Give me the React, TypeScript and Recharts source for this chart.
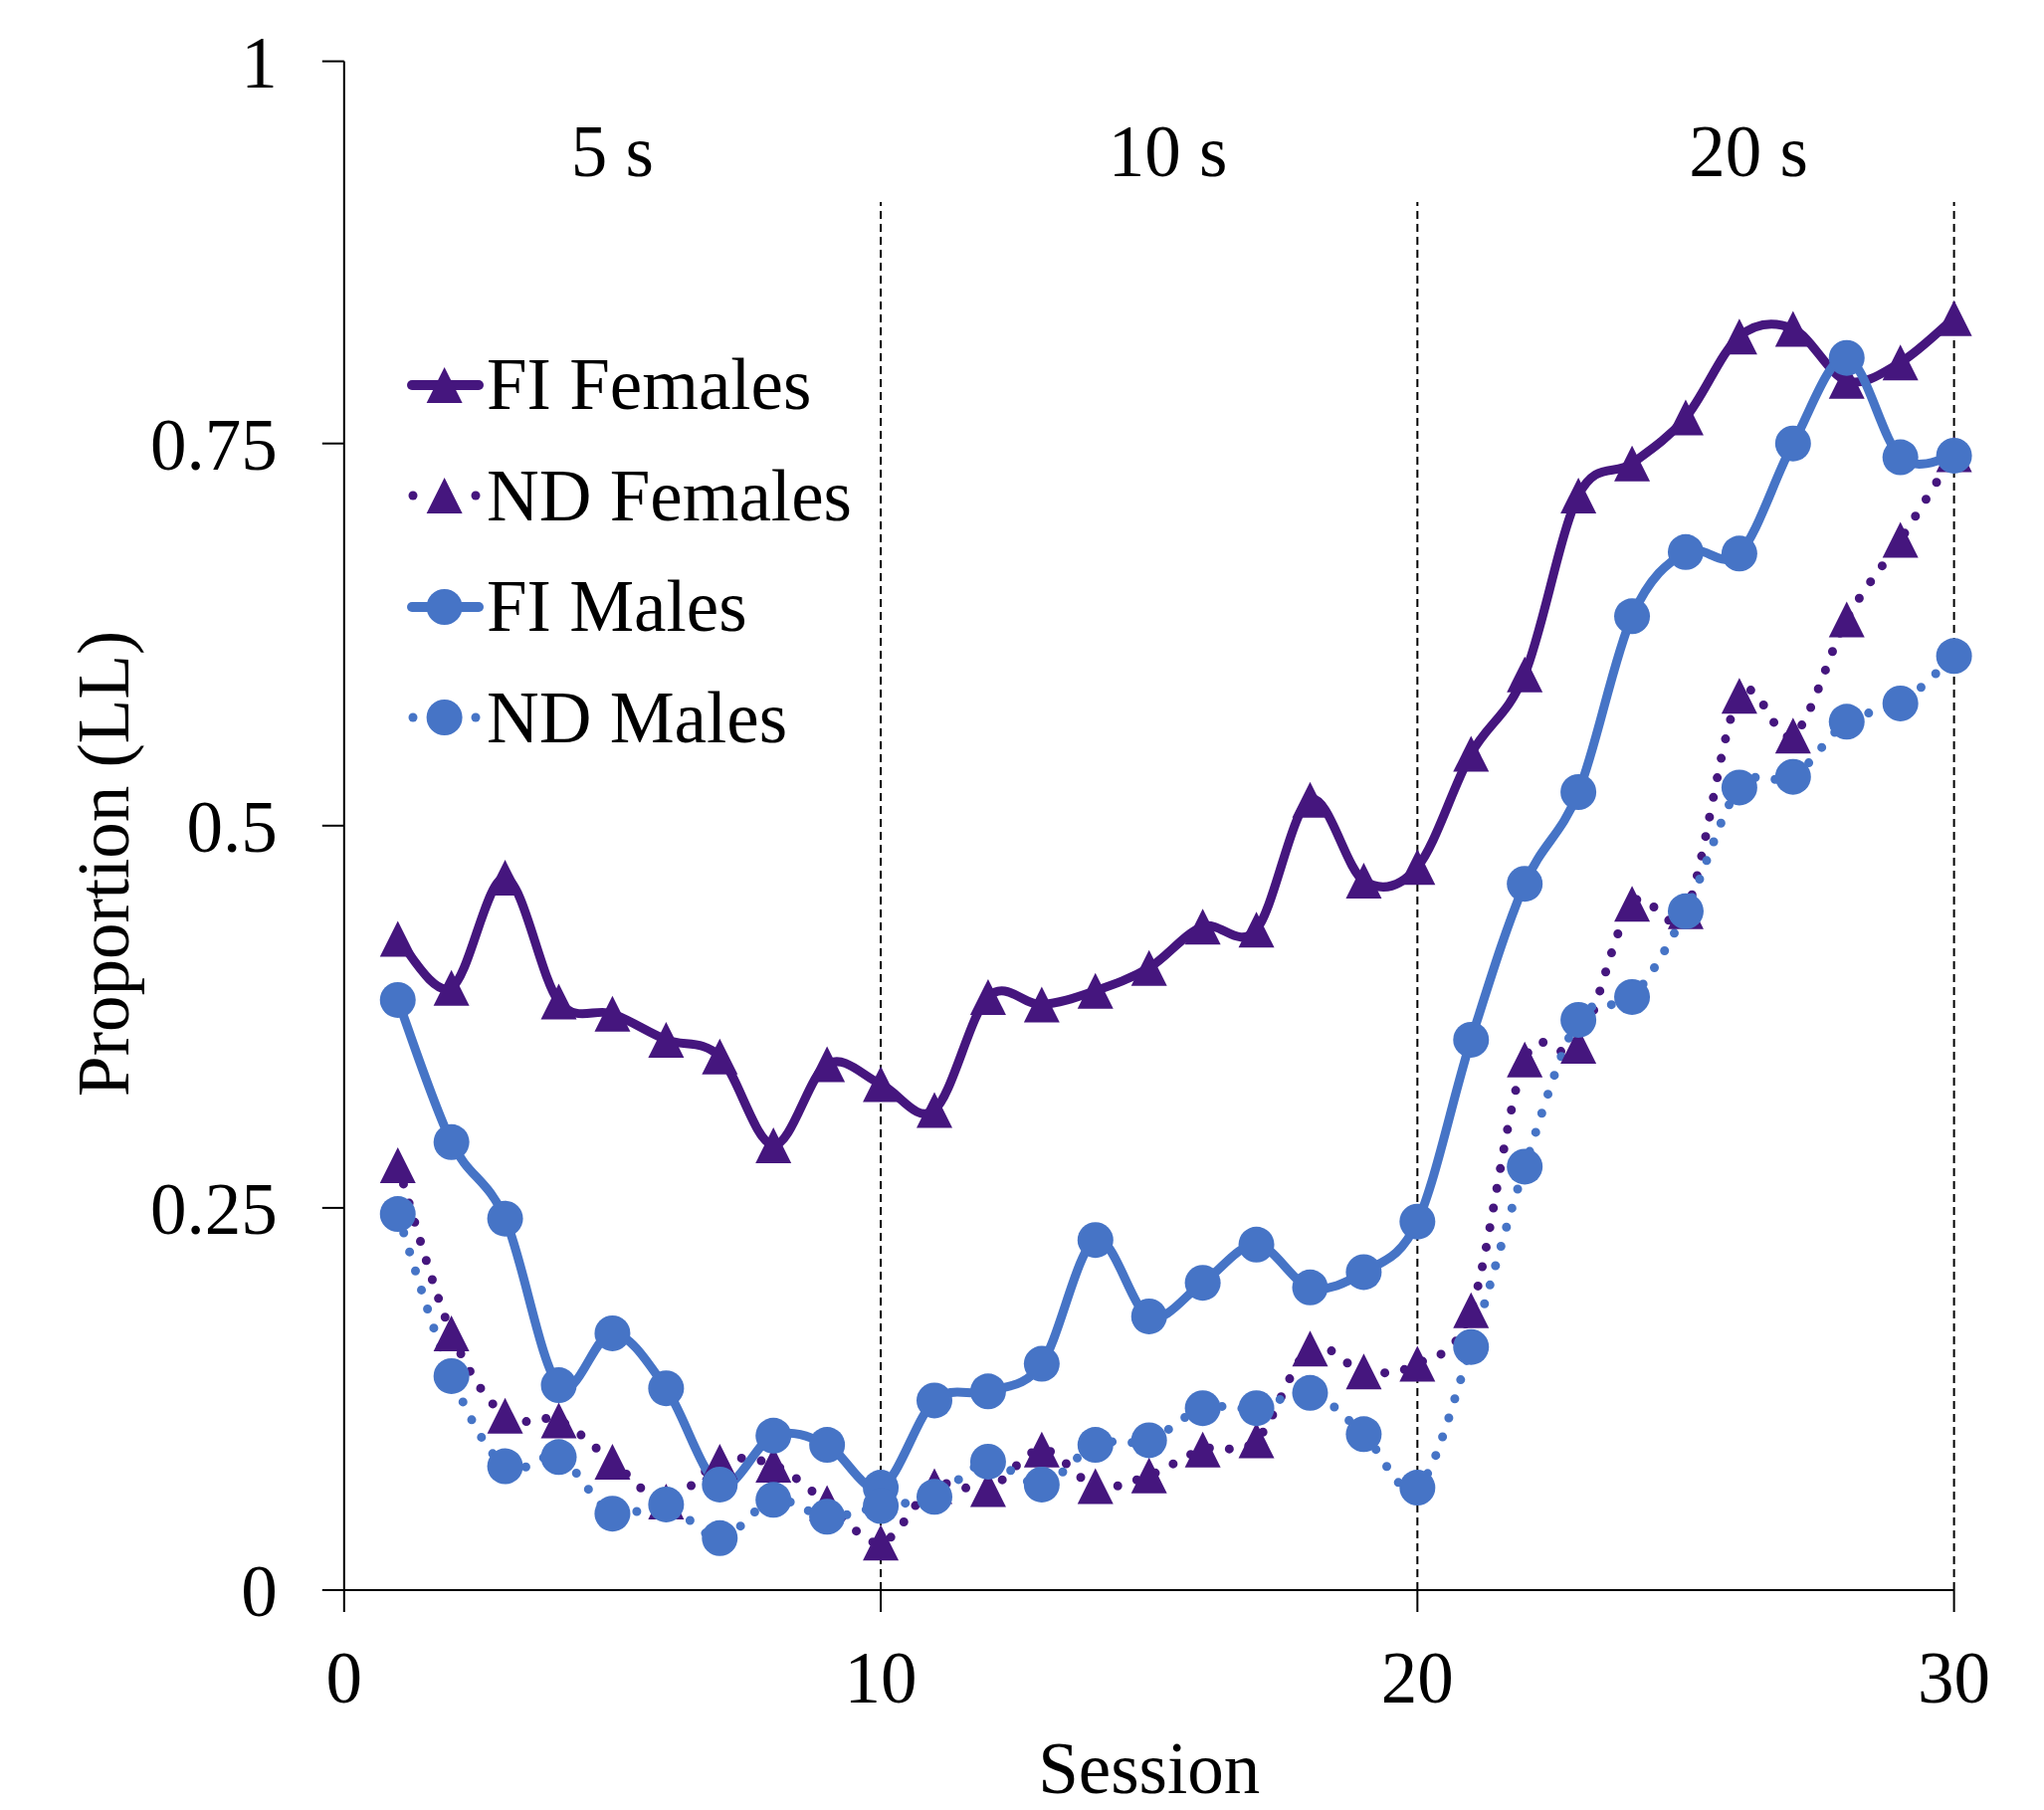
import React from 'react';
import {
  Label,
  Legend,
  Line,
  LineChart,
  ReferenceDot,
  ReferenceLine,
  XAxis,
  YAxis,
} from 'recharts';

const sessions = Array.from({ length: 30 }, (_, i) => i + 1);

const fiFemales = [
  0.426, 0.394, 0.466, 0.385, 0.377, 0.36, 0.349, 0.291, 0.344, 0.331,
  0.314, 0.388, 0.383, 0.392, 0.407, 0.434, 0.432, 0.517, 0.464, 0.473,
  0.547, 0.599, 0.716, 0.737, 0.767, 0.82, 0.825, 0.791, 0.803, 0.832,
];
const ndFemales = [
  0.278, 0.168, 0.114, 0.111, 0.084, 0.058, 0.084, 0.082, 0.057, 0.031,
  0.068, 0.066, 0.092, 0.068, 0.075, 0.092, 0.098, 0.158, 0.143, 0.148,
  0.183, 0.347, 0.356, 0.449, 0.444, 0.585, 0.559, 0.635, 0.687, 0.743,
];
const fiMales = [
  0.386, 0.293, 0.243, 0.134, 0.168, 0.132, 0.069, 0.101, 0.095, 0.067,
  0.124, 0.13, 0.148, 0.229, 0.179, 0.201, 0.226, 0.198, 0.208, 0.241,
  0.36, 0.462, 0.522, 0.637, 0.679, 0.678, 0.75, 0.806, 0.741, 0.742,
];
const ndMales = [
  0.246, 0.14, 0.081, 0.087, 0.05, 0.056, 0.034, 0.059, 0.048, 0.055,
  0.061, 0.084, 0.069, 0.095, 0.098, 0.119, 0.119, 0.129, 0.102, 0.067,
  0.159, 0.277, 0.373, 0.388, 0.444, 0.525, 0.532, 0.568, 0.58, 0.611,
];

const xTicks = [0, 10, 20, 30];
const yTicks = [0, 0.25, 0.5, 0.75, 1];
const phaseBounds = [10, 20, 30];
const phaseLabels = ['5 s', '10 s', '20 s'];
const phaseLabelX = [5, 15.35, 26.17];

const data = sessions.map((s, i) => ({
  session: s,
  fiF: fiFemales[i],
  ndF: ndFemales[i],
  fiM: fiMales[i],
  ndM: ndMales[i],
}));

const PURPLE = '#45167e';
const BLUE = '#4674c6';
const FONT = '"Liberation Serif", "Times New Roman", serif';
const FS = 73;

// Excel-like smoothed line (Catmull-Rom as bezier)
const smoothCurve = (context: any) => {
  let pts: number[][] = [];
  return {
    areaStart() {},
    areaEnd() {},
    lineStart() {
      pts = [];
    },
    point(x: number, y: number) {
      pts.push([+x, +y]);
    },
    lineEnd() {
      const n = pts.length;
      if (!n) return;
      context.moveTo(pts[0][0], pts[0][1]);
      for (let i = 0; i < n - 1; i++) {
        const p0 = pts[i - 1] || pts[i];
        const p1 = pts[i];
        const p2 = pts[i + 1];
        const p3 = pts[i + 2] || p2;
        context.bezierCurveTo(
          p1[0] + (p2[0] - p0[0]) / 6,
          p1[1] + (p2[1] - p0[1]) / 6,
          p2[0] - (p3[0] - p1[0]) / 6,
          p2[1] - (p3[1] - p1[1]) / 6,
          p2[0],
          p2[1]
        );
      }
    },
  };
};

const triangle = (color: string) => (props: any) => {
  const { cx, cy, index } = props;
  if (cx == null || cy == null) return <g key={`t-${index}`} />;
  return (
    <path
      key={`t-${index}`}
      d={`M${cx},${cy - 18}L${cx + 18},${cy + 18}L${cx - 18},${cy + 18}Z`}
      fill={color}
    />
  );
};

const circle = (color: string) => (props: any) => {
  const { cx, cy, index } = props;
  if (cx == null || cy == null) return <g key={`c-${index}`} />;
  return <circle key={`c-${index}`} cx={cx} cy={cy} r={18} fill={color} />;
};

const legendItems = [
  { name: 'FI Females', color: PURPLE, marker: 'tri', dotted: false },
  { name: 'ND Females', color: PURPLE, marker: 'tri', dotted: true },
  { name: 'FI Males', color: BLUE, marker: 'circ', dotted: false },
  { name: 'ND Males', color: BLUE, marker: 'circ', dotted: true },
];

const renderLegend = () => (
  <div>
    {legendItems.map((it) => (
      <div
        key={it.name}
        style={{ display: 'flex', alignItems: 'center', height: 111.5 }}
      >
        <svg width={80} height={44} style={{ display: 'block' }}>
          {it.dotted ? (
            [6, 69].map((x) => (
              <circle key={x} cx={x} cy={22} r={4.5} fill={it.color} />
            ))
          ) : (
            <line
              x1={5}
              y1={22}
              x2={72}
              y2={22}
              stroke={it.color}
              strokeWidth={10}
              strokeLinecap="round"
            />
          )}
          {it.marker === 'tri' ? (
            <path d="M37.6,4L55.6,40L19.6,40Z" fill={it.color} />
          ) : (
            <circle cx={37.6} cy={22} r={18} fill={it.color} />
          )}
        </svg>
        <span
          style={{
            fontFamily: FONT,
            fontSize: FS,
            lineHeight: 1,
            color: '#000',
            whiteSpace: 'nowrap',
          }}
        >
          {it.name}
        </span>
      </div>
    ))}
  </div>
);

const tickStyle = { fill: '#000', fontSize: FS, fontFamily: FONT };

export default function App() {
  return (
    <LineChart
      width={2038}
      height={1803}
      data={data}
      margin={{ top: 53.6, right: 82.4, bottom: 7, left: 0 }}
    >
      <XAxis
        dataKey="session"
        type="number"
        domain={[0, 30]}
        ticks={xTicks}
        height={206}
        tick={tickStyle}
        tickSize={22}
        tickMargin={39}
        axisLine={{ stroke: '#000', strokeWidth: 2 }}
        tickLine={{ stroke: '#000', strokeWidth: 2 }}
      >
        <Label
          value="Session"
          position="insideBottom"
          offset={2}
          fill="#000"
          fontSize={FS}
          fontFamily={FONT}
        />
      </XAxis>
      <YAxis
        type="number"
        domain={[0, 1]}
        ticks={yTicks}
        width={337.8}
        tick={tickStyle}
        tickSize={22}
        tickMargin={45}
        axisLine={{ stroke: '#000', strokeWidth: 2 }}
        tickLine={{ stroke: '#000', strokeWidth: 2 }}
      >
        <Label
          content={({ viewBox }: any) => {
            const cx = viewBox.x + 97;
            const cy = viewBox.y + viewBox.height / 2 + 38;
            return (
              <text
                x={cx}
                y={cy}
                transform={`rotate(-90 ${cx} ${cy})`}
                textAnchor="middle"
                dominantBaseline="central"
                fill="#000"
                fontSize={FS}
                fontFamily={FONT}
              >
                Proportion (LL)
              </text>
            );
          }}
        />
      </YAxis>
      {phaseBounds.map((b) => (
        <ReferenceLine
          key={`b-${b}`}
          segment={[
            { x: b, y: 0 },
            { x: b, y: 0.908 },
          ]}
          stroke="#000"
          strokeWidth={2}
          strokeDasharray="8 5"
        />
      ))}
      {phaseLabels.map((lab, i) => (
        <ReferenceDot
          key={lab}
          x={phaseLabelX[i]}
          y={0.942}
          r={0}
          fill="none"
          stroke="none"
          label={{
            value: lab,
            position: 'center',
            fill: '#000',
            fontSize: FS,
            fontFamily: FONT,
          }}
        />
      ))}
      <Legend
        layout="vertical"
        align="center"
        verticalAlign="middle"
        content={renderLegend}
        wrapperStyle={{ left: 401, top: 323, width: 'auto', height: 'auto' }}
      />
      <Line
        dataKey="fiF"
        name="FI Females"
        type={smoothCurve as any}
        stroke={PURPLE}
        strokeWidth={9}
        dot={triangle(PURPLE)}
        activeDot={false}
        isAnimationActive={false}
      />
      <Line
        dataKey="ndF"
        name="ND Females"
        type={smoothCurve as any}
        stroke={PURPLE}
        strokeWidth={9}
        strokeLinecap="round"
        strokeDasharray="0 20"
        dot={triangle(PURPLE)}
        activeDot={false}
        isAnimationActive={false}
      />
      <Line
        dataKey="fiM"
        name="FI Males"
        type={smoothCurve as any}
        stroke={BLUE}
        strokeWidth={9}
        dot={circle(BLUE)}
        activeDot={false}
        isAnimationActive={false}
      />
      <Line
        dataKey="ndM"
        name="ND Males"
        type={smoothCurve as any}
        stroke={BLUE}
        strokeWidth={9}
        strokeLinecap="round"
        strokeDasharray="0 20"
        dot={circle(BLUE)}
        activeDot={false}
        isAnimationActive={false}
      />
    </LineChart>
  );
}
